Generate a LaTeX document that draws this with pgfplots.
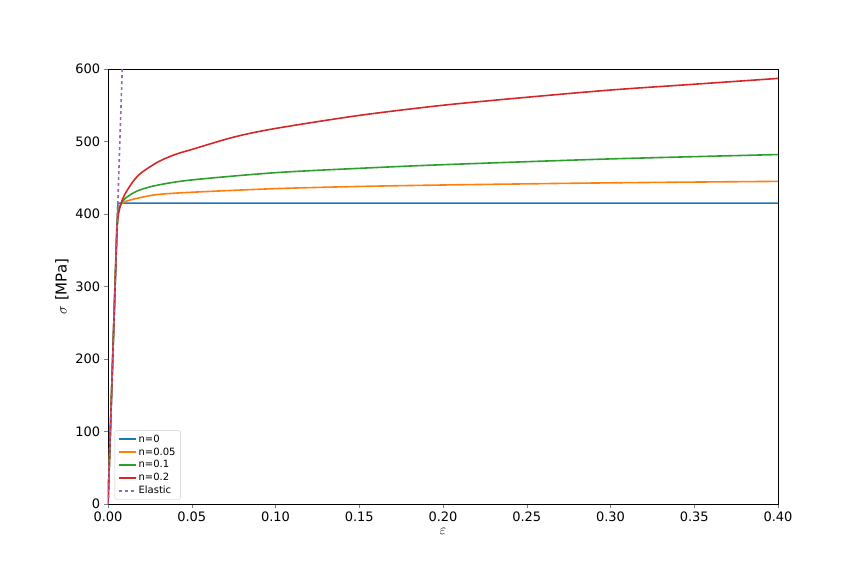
\documentclass[border=0pt]{standalone}
\usepackage{pgfplots}
\pgfplotsset{compat=1.18}
\usepackage{fontspec}
\setmainfont{DejaVu Sans}
\definecolor{c0}{HTML}{1F77B4}\definecolor{c1}{HTML}{FF7F0E}\definecolor{c2}{HTML}{2CA02C}\definecolor{c3}{HTML}{D62728}\definecolor{c4}{HTML}{9467BD}
\begin{document}
\begin{tikzpicture}
\path[use as bounding box] (-108pt,-72pt) rectangle (756pt,504pt);
\begin{axis}[at={(0,0)},anchor=south west,scale only axis,width=670pt,height=435pt,
xmin=0,xmax=0.4,ymin=0,ymax=600,
xtick={0,0.05,...,0.4},xticklabels={0.00,0.05,0.10,0.15,0.20,0.25,0.30,0.35,0.40},
ytick={0,100,...,600},
xtick pos=left,ytick pos=left,
/pgf/number format/assume math mode=true,
every tick label/.append style={font=\fontsize{13}{15}\selectfont},
every axis x label/.append style={font=\fontsize{15}{17}\selectfont},
every axis y label/.append style={font=\fontsize{15}{17}\selectfont},
xlabel={$\varepsilon$},ylabel={$\sigma$ [MPa]},
tick align=outside,
legend style={at={(0.01,0.01)},anchor=south west,font=\fontsize{10}{12}\selectfont,draw=black!20,rounded corners=2pt},
legend cell align=left]
\addplot[c0,line width=1.6pt] coordinates {(0,0)(0.0059,415)(0.4,415)};
\addlegendentry{n=0}
\addplot[c1,line width=1.6pt,smooth] coordinates {(0,0)(0.005,360)(0.0055,390)(0.006,405)(0.007,411)(0.01,417)(0.02,423)(0.03,427)(0.05,430)(0.1,435)(0.15,438)(0.2,440)(0.3,443)(0.4,445)};
\addlegendentry{n=0.05}
\addplot[c2,line width=1.6pt,smooth] coordinates {(0,0)(0.005,360)(0.0055,388)(0.006,402)(0.007,410)(0.008,415)(0.01,421)(0.015,429)(0.02,434)(0.03,440)(0.05,447)(0.1,457)(0.15,463)(0.2,468)(0.3,476)(0.4,482)};
\addlegendentry{n=0.1}
\addplot[c3,line width=1.6pt,smooth] coordinates {(0,0)(0.005,355)(0.0055,380)(0.006,396)(0.007,408)(0.008,416)(0.01,427)(0.015,445)(0.02,457)(0.03,472)(0.04,482)(0.05,489)(0.075,506)(0.1,518)(0.15,536)(0.2,550)(0.25,561)(0.3,571)(0.35,579)(0.4,587)};
\addlegendentry{n=0.2}
\addplot[c4,dashed,line width=1.6pt] coordinates {(0,0)(0.0085,600)};
\addlegendentry{Elastic}
\end{axis}
\end{tikzpicture}
\end{document}
